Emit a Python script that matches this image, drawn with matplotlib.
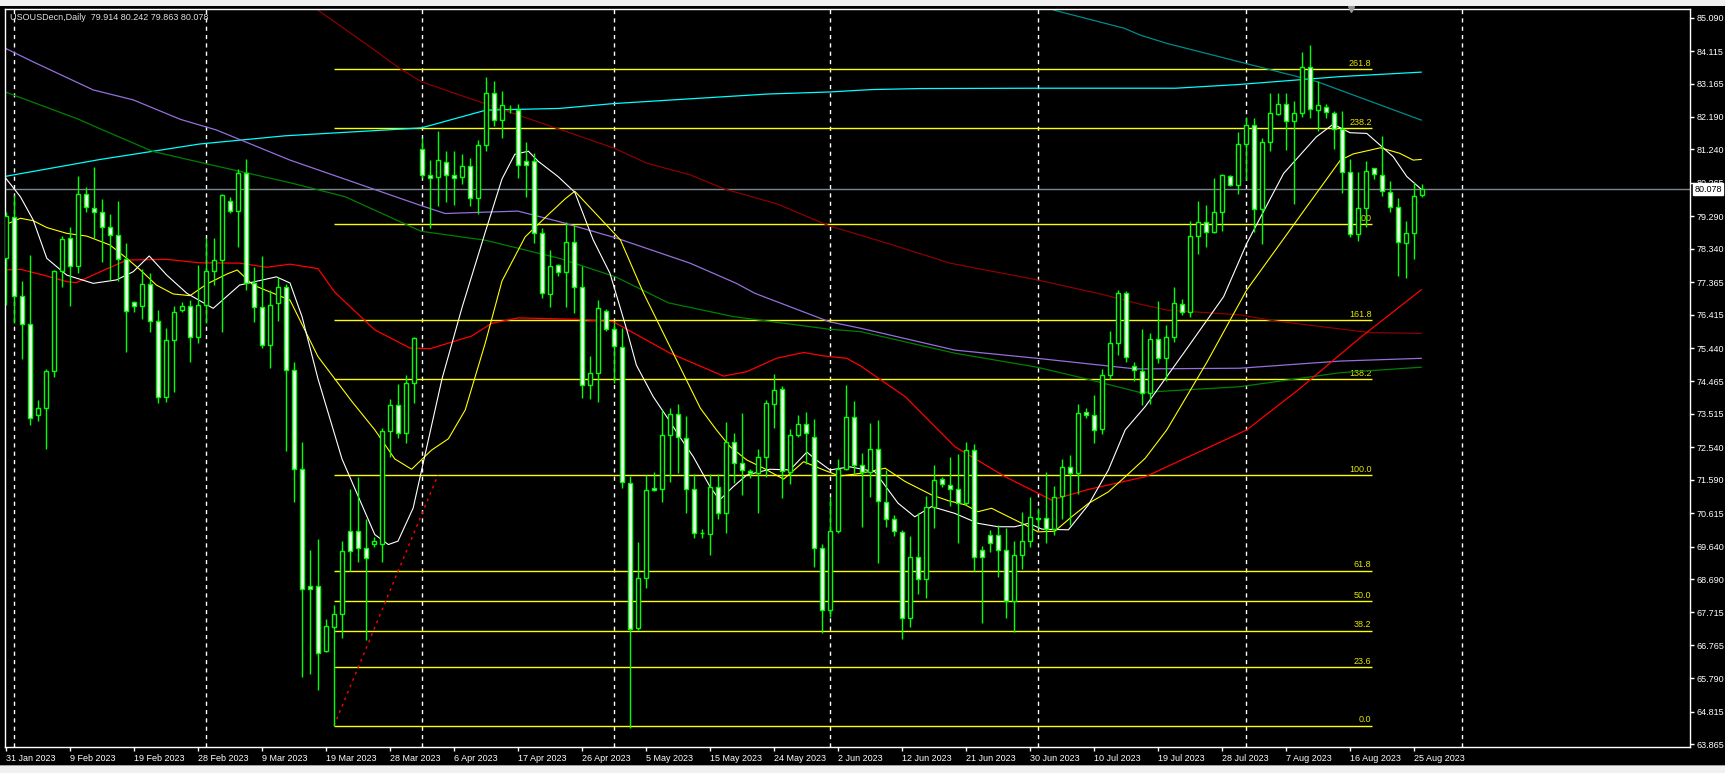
import numpy as np
import matplotlib.pyplot as plt
from matplotlib.patches import Rectangle

plt.rcParams['font.family'] = ['Liberation Sans', 'DejaVu Sans']

# daily bars (Sun-Fri sessions), 31 Jan 2023 .. 27 Aug 2023
opens = [78.06, 79.26, 76.96, 76.13, 73.47, 73.68, 74.76, 77.68, 78.65, 77.83,
         79.93, 79.52, 79.40, 78.99, 78.73, 78.03, 76.78, 76.66, 77.30, 76.22,
         74.00, 75.67, 76.54, 76.66, 75.76, 76.69, 77.68, 78.01, 79.75, 79.43,
         80.54, 77.33, 76.63, 75.53, 76.75, 77.21, 74.80, 71.90, 68.50, 68.50,
         66.58, 67.29, 67.66, 70.11, 70.11, 69.59, 69.72, 69.72, 73.01, 73.77,
         72.97, 74.42, 81.25, 80.50, 80.44, 80.87, 80.49, 80.44, 80.76, 79.83,
         81.36, 82.88, 82.10, 82.41, 82.40, 80.89, 80.89, 78.81, 77.03, 77.88,
         77.66, 78.55, 77.21, 74.35, 74.70, 76.53, 75.99, 75.48, 71.51, 67.25,
         68.71, 71.34, 71.31, 72.89, 73.51, 72.80, 71.31, 70.05, 70.00, 71.37,
         70.61, 72.70, 72.07, 71.86, 71.79, 72.25, 73.80, 74.24, 71.81, 72.89,
         73.21, 72.85, 69.59, 67.79, 70.11, 71.90, 73.42, 72.01, 71.82, 72.48,
         70.95, 70.44, 70.08, 67.54, 69.33, 68.68, 70.79, 71.62, 71.45, 71.33,
         70.90, 72.46, 69.54, 69.98, 69.98, 69.54, 68.05, 69.39, 69.80, 70.45,
         70.47, 70.14, 71.13, 71.97, 71.78, 73.58, 73.47, 73.08, 74.64, 75.60,
         77.04, 74.91, 74.78, 74.12, 75.70, 75.14, 75.75, 76.72, 76.48, 78.72,
         79.13, 78.82, 79.42, 80.48, 80.19, 81.39, 81.97, 79.49, 81.45, 82.27,
         82.56, 82.07, 82.30, 83.64, 82.39, 82.49, 82.32, 81.84, 80.59, 78.77,
         79.54, 80.69, 80.50, 80.01, 79.55, 78.50, 78.79, 79.914]
highs = [79.40, 79.91, 77.40, 78.16, 73.92, 74.83, 77.72, 78.71, 78.97, 80.47,
         80.13, 80.73, 79.79, 79.36, 79.75, 78.50, 76.82, 77.75, 77.62, 76.55,
         76.03, 76.68, 76.78, 76.83, 77.87, 78.65, 78.65, 79.93, 79.86, 80.66,
         80.95, 77.82, 78.13, 77.14, 77.52, 77.31, 75.02, 72.71, 69.54, 69.85,
         67.53, 67.94, 69.80, 71.32, 71.67, 70.44, 69.93, 73.10, 73.96, 74.40,
         74.66, 75.77, 81.58, 80.93, 81.77, 81.19, 81.19, 81.12, 80.99, 81.51,
         83.36, 83.23, 82.94, 82.53, 82.58, 81.45, 81.15, 78.94, 78.31, 77.90,
         79.11, 79.02, 77.84, 75.21, 76.84, 76.57, 76.21, 76.02, 71.70, 69.78,
         71.73, 71.83, 73.63, 73.68, 73.81, 73.45, 71.75, 70.15, 71.75, 71.75,
         73.28, 72.97, 73.53, 71.90, 72.48, 73.92, 74.68, 74.33, 73.07, 73.48,
         73.56, 73.36, 69.72, 71.08, 72.19, 74.36, 73.89, 72.38, 73.24, 73.34,
         71.88, 70.56, 70.12, 69.95, 70.61, 71.13, 72.01, 71.68, 72.25, 72.34,
         72.69, 72.64, 69.66, 70.12, 70.27, 70.17, 69.80, 70.66, 71.08, 70.78,
         71.83, 71.41, 72.20, 72.32, 73.82, 73.70, 74.06, 74.82, 75.94, 77.15,
         77.11, 75.04, 75.99, 75.87, 76.80, 76.10, 77.21, 76.86, 79.16, 79.75,
         79.62, 80.40, 80.52, 80.50, 81.76, 82.18, 82.15, 81.59, 82.88, 82.90,
         82.88, 82.67, 84.09, 84.29, 83.25, 82.57, 82.37, 82.36, 80.95, 80.57,
         80.90, 80.71, 81.64, 80.32, 79.81, 79.16, 80.28, 80.242]
lows = [76.70, 76.16, 75.12, 73.20, 73.30, 72.50, 74.58, 77.23, 76.68, 77.62,
        79.40, 78.65, 77.96, 77.44, 77.41, 75.31, 76.50, 76.29, 75.90, 73.83,
        73.87, 74.15, 76.50, 75.02, 75.58, 76.16, 77.28, 75.90, 79.38, 78.38,
        77.14, 76.19, 75.43, 74.87, 76.24, 72.42, 70.93, 65.83, 65.93, 65.45,
        66.55, 64.41, 66.97, 68.92, 69.20, 66.90, 69.63, 69.18, 72.27, 72.81,
        72.66, 73.83, 80.40, 78.94, 79.59, 79.72, 79.63, 80.22, 79.59, 79.37,
        81.19, 81.93, 81.58, 82.30, 80.41, 79.85, 78.50, 76.90, 76.64, 77.55,
        76.64, 76.45, 73.99, 73.96, 73.85, 75.95, 74.41, 71.34, 64.35, 67.20,
        68.44, 71.26, 70.95, 71.54, 71.78, 70.63, 69.90, 69.90, 69.39, 70.44,
        70.03, 71.51, 71.15, 71.63, 70.63, 71.66, 73.10, 71.07, 71.47, 72.85,
        72.04, 69.05, 67.11, 67.57, 70.05, 71.88, 71.78, 70.22, 71.08, 69.15,
        70.22, 69.95, 66.93, 67.28, 68.25, 68.13, 70.17, 71.37, 70.83, 69.75,
        70.85, 68.94, 67.40, 69.49, 68.74, 67.56, 67.14, 69.00, 69.62, 70.17,
        69.75, 69.98, 70.44, 70.27, 71.18, 73.39, 72.66, 72.93, 74.53, 75.24,
        75.04, 74.49, 73.77, 73.81, 74.99, 74.48, 75.63, 76.41, 76.36, 78.18,
        78.40, 78.79, 78.87, 80.17, 79.93, 80.35, 78.84, 78.47, 81.21, 82.25,
        81.23, 79.65, 82.18, 82.15, 81.79, 82.15, 81.25, 79.98, 78.67, 78.58,
        78.99, 80.37, 79.89, 79.41, 77.53, 77.50, 78.03, 79.863]
closes = [79.30, 76.96, 76.13, 73.39, 73.68, 74.76, 77.68, 78.62, 77.83, 79.93,
          79.55, 79.40, 78.99, 78.73, 78.03, 76.51, 76.66, 77.30, 76.22, 74.00,
          75.67, 76.48, 76.66, 75.76, 76.69, 77.68, 78.01, 79.90, 79.44, 80.54,
          77.33, 76.63, 75.53, 76.70, 77.21, 74.80, 71.90, 68.40, 68.40, 66.54,
          67.32, 67.66, 69.50, 69.50, 69.59, 69.31, 69.80, 73.01, 73.77, 72.97,
          74.42, 75.72, 80.50, 80.40, 80.92, 80.49, 80.41, 80.76, 79.83, 81.36,
          82.88, 82.10, 82.53, 82.43, 80.80, 80.80, 78.81, 77.06, 77.84, 77.66,
          78.55, 77.21, 74.35, 74.70, 76.60, 75.99, 75.50, 71.52, 67.22, 68.71,
          71.29, 71.28, 72.89, 73.51, 72.83, 71.31, 70.03, 70.03, 71.37, 70.61,
          72.70, 72.07, 71.88, 71.79, 72.25, 73.83, 74.20, 71.85, 72.89, 73.21,
          72.95, 69.59, 67.79, 70.11, 71.92, 73.42, 72.01, 71.82, 72.48, 70.97,
          70.45, 70.10, 67.54, 69.33, 68.68, 70.79, 71.60, 71.47, 71.31, 70.90,
          72.46, 69.33, 69.33, 69.75, 69.54, 68.05, 69.39, 69.80, 70.50, 70.47,
          70.14, 71.10, 71.96, 71.78, 73.55, 73.47, 73.06, 74.64, 75.58, 77.04,
          75.17, 74.80, 74.12, 75.70, 75.14, 75.75, 76.75, 76.48, 78.72, 79.13,
          78.84, 79.41, 80.49, 80.19, 81.39, 81.97, 79.49, 81.45, 82.30, 82.56,
          82.07, 82.30, 83.64, 82.41, 82.53, 82.34, 81.84, 80.57, 78.77, 79.54,
          80.62, 80.52, 80.03, 79.55, 78.53, 78.79, 79.88, 80.078]

# date labels every 8 bars
date_labels = ['31 Jan 2023', '9 Feb 2023', '19 Feb 2023', '28 Feb 2023', '9 Mar 2023',
               '19 Mar 2023', '28 Mar 2023', '6 Apr 2023', '17 Apr 2023', '26 Apr 2023',
               '5 May 2023', '15 May 2023', '24 May 2023', '2 Jun 2023', '12 Jun 2023',
               '21 Jun 2023', '30 Jun 2023', '10 Jul 2023', '19 Jul 2023', '28 Jul 2023',
               '7 Aug 2023', '16 Aug 2023', '25 Aug 2023']
month_start_bars = [1, 25, 52, 76, 103, 129, 155, 182]
price_labels = ['85.090', '84.115', '83.165', '82.190', '81.240', '80.265', '79.290',
                '78.340', '77.365', '76.415', '75.440', '74.465', '73.515', '72.540',
                '71.590', '70.615', '69.640', '68.690', '67.715', '66.765', '65.790',
                '64.815', '63.865']

# moving averages (bar position, price)
ma_white_x = [-0.2, 1.8, 3.4, 5.1, 7.6, 10.9, 13.8, 15.9, 17.9, 20.1, 22.6, 25.9, 29.2, 33.8,
              35.5, 37.0, 39.0, 42.0, 46.1, 47.8, 49.0, 50.9, 51.9, 54.5, 57.0, 59.9, 62.0,
              63.6, 65.3, 66.5, 69.0, 71.1, 73.4, 75.5, 77.6, 78.8, 80.9, 83.0, 84.2, 85.9,
              88.0, 89.2, 90.9, 92.6, 95.5, 98.0, 100.1, 101.3, 103.0, 105.5, 108.6, 111.5,
              113.6, 115.7, 118.6, 121.5, 124.0, 126.1, 127.8, 129.5, 132.8, 135.3, 137.8,
              139.9, 142.4, 147.2, 152.2, 155.1, 159.7, 163.8, 165.9, 168.0, 170.1, 173.4,
              175.1, 176.9]
ma_white_y = [80.45, 79.86, 79.18, 78.06, 77.57, 77.33, 77.43, 77.67, 78.13, 77.57, 77.04,
              76.60, 77.28, 77.52, 77.34, 76.36, 74.54, 72.20, 69.99, 69.70, 69.80, 70.77,
              71.82, 74.54, 76.62, 78.82, 80.38, 81.10, 81.19, 80.90, 80.45, 79.99, 78.60,
              77.62, 75.97, 74.94, 74.02, 73.29, 72.85, 72.27, 71.39, 71.00, 71.39, 71.73,
              71.90, 71.88, 72.40, 72.17, 71.88, 71.97, 71.83, 70.91, 70.51, 70.81, 70.61,
              70.32, 70.22, 70.22, 70.32, 70.15, 70.13, 70.86, 71.88, 73.05, 73.73, 75.29,
              76.94, 78.50, 80.54, 81.61, 81.98, 81.73, 81.71, 81.03, 80.45, 80.08]
ma_yellow_x = [-0.2, 1.8, 3.4, 5.1, 7.6, 10.1, 13.0, 15.1, 16.8, 18.8, 20.9, 23.0, 25.1,
               27.6, 28.9, 30.9, 33.4, 35.5, 39.0, 43.2, 46.1, 48.6, 50.7, 53.2, 55.3, 57.4,
               59.9, 62.0, 64.9, 67.8, 69.9, 71.1, 76.8, 79.7, 83.0, 86.8, 88.8, 90.5, 92.6,
               94.7, 97.2, 99.7, 102.2, 104.2, 106.8, 109.9, 112.4, 115.7, 117.8, 119.9,
               121.5, 123.2, 124.9, 127.0, 129.0, 131.1, 133.2, 135.3, 137.8, 139.9, 142.4,
               145.1, 150.1, 155.1, 160.5, 163.8, 166.8, 168.4, 171.8, 174.2, 175.9, 176.9]
ma_yellow_y = [79.03, 79.23, 79.16, 78.96, 78.79, 78.71, 78.45, 78.06, 77.72, 77.28, 77.02,
               76.97, 77.31, 77.60, 77.72, 77.28, 77.04, 76.84, 75.19, 73.89, 73.05, 72.20,
               71.90, 72.46, 72.79, 73.63, 75.58, 77.40, 78.69, 79.34, 79.80, 80.02, 78.60,
               77.04, 75.48, 73.68, 73.05, 72.56, 72.17, 71.93, 71.61, 72.12, 71.88, 71.70,
               71.78, 71.93, 71.54, 71.15, 70.98, 70.86, 70.66, 70.76, 70.56, 70.32, 70.07,
               70.09, 70.51, 70.90, 71.24, 71.68, 72.22, 73.05, 75.02, 77.14, 78.89, 79.96,
               80.93, 81.11, 81.29, 81.13, 80.93, 80.95]
ma_red_x = [-0.2, 1.8, 4.7, 7.6, 8.8, 11.8, 15.1, 20.1, 24.2, 29.2, 32.6, 35.5, 39.0, 41.1,
            46.1, 50.5, 53.0, 58.2, 60.7, 64.0, 71.1, 75.9, 83.0, 89.7, 92.6, 96.3, 99.7,
            102.2, 105.1, 106.8, 112.4, 118.6, 124.9, 130.7, 135.3, 142.4, 155.1, 161.8,
            169.2, 176.9]
ma_red_y = [77.72, 77.74, 77.57, 77.38, 77.35, 77.67, 78.01, 78.03, 77.93, 77.92, 77.80,
            77.89, 77.76, 77.07, 75.97, 75.44, 75.42, 75.79, 76.16, 76.32, 76.28, 76.21,
            75.29, 74.62, 74.75, 75.14, 75.31, 75.21, 75.14, 74.92, 74.02, 72.56, 71.68,
            71.00, 71.31, 71.68, 73.05, 74.27, 75.73, 77.14]
ma_green_x = [-0.2, 9.0, 12.1, 18.4, 25.1, 35.5, 42.4, 51.9, 59.9, 69.2, 76.2, 82.8, 90.9,
              102.9, 106.8, 118.6, 128.9, 135.2, 141.8, 154.2, 166.8, 176.9]
ma_green_y = [82.93, 82.13, 81.81, 81.18, 80.82, 80.27, 79.86, 78.85, 78.59, 78.06, 77.52,
              76.76, 76.36, 75.99, 75.92, 75.29, 74.88, 74.53, 74.14, 74.31, 74.72, 74.88]
ma_purple_x = [-0.2, 3.4, 10.9, 15.9, 21.8, 26.3, 35.5, 51.9, 54.9, 59.9, 64.0, 69.2, 76.2,
               85.5, 91.3, 93.6, 102.9, 106.8, 118.6, 128.9, 141.2, 154.2, 166.8, 176.9]
ma_purple_y = [84.21, 83.80, 82.98, 82.69, 82.12, 81.81, 80.93, 79.60, 79.37, 79.41, 79.44,
               79.13, 78.66, 77.92, 77.33, 77.04, 76.21, 76.02, 75.38, 75.14, 74.83, 74.85,
               75.06, 75.14]
ma_maroon_x = [38.0, 39.0, 45.2, 49.2, 52.0, 69.2, 75.9, 80.1, 85.5, 89.9, 96.4, 102.9,
               109.9, 118.0, 128.9, 137.0, 141.8, 145.1, 154.2, 158.4, 170.5, 176.9]
ma_maroon_y = [85.60, 85.31, 84.29, 83.61, 83.21, 81.83, 81.29, 80.84, 80.50, 80.08, 79.65,
               79.01, 78.52, 77.92, 77.43, 77.01, 76.72, 76.55, 76.41, 76.24, 75.89, 75.87]
ma_cyan_x = [-0.2, 11.8, 24.2, 34.9, 51.9, 60.0, 69.2, 75.9, 85.5, 95.2, 102.9, 108.2, 114.2,
             128.9, 141.8, 146.2, 154.2, 166.8, 176.9]
ma_cyan_y = [80.45, 80.95, 81.40, 81.64, 81.87, 82.39, 82.44, 82.58, 82.72, 82.86, 82.92,
             82.99, 83.02, 83.03, 83.03, 83.03, 83.14, 83.37, 83.50]
ma_teal_x = [129.0, 131.0, 139.8, 141.8, 145.1, 154.2, 163.9, 176.9]
ma_teal_y = [85.60, 85.31, 84.78, 84.58, 84.34, 83.80, 83.22, 82.10]

# fibonacci expansion drawn on the chart
fib_names = ['0.0', '23.6', '38.2', '50.0', '61.8', '100.0', '138.2', '161.8', '200',
             '238.2', '261.8']
fib_prices = [64.41, 66.12, 67.18, 68.05, 68.94, 71.73, 74.53, 76.26, 79.06, 81.86, 83.58]
fib_start, fib_end = 41, 170.7
fib_trend_x = [41, 54]
fib_trend_y = [64.41, 71.73]

last_price = 80.078
title = 'USOUSDecn,Daily  79.914 80.242 79.863 80.078'

W, H = 1725, 773
fig = plt.figure(figsize=(W / 100, H / 100), dpi=100, facecolor='black')
ax = fig.add_axes([5 / W, 1 - 747 / H, 1685 / W, 738 / H], facecolor='black')

bars = np.arange(len(closes))
o = np.array(opens)
c = np.array(closes)
green = '#00ff00'

# grid / drawings
for b in month_start_bars:
    ax.axvline(b, color='white', lw=1, ls=(0, (3, 3)), zorder=1)
ax.hlines(fib_prices, fib_start, fib_end, color='#ffff00', lw=1, zorder=1.5)
for name, p in zip(fib_names, fib_prices):
    ax.annotate(name, (fib_end, p), xytext=(0, 1), textcoords='offset points',
                ha='right', va='bottom', color='#e6e600', fontsize=6.5, zorder=1.6)
ax.plot(fib_trend_x, fib_trend_y, color='red', lw=1, ls=(0, (2, 3)), zorder=1.6)
ax.axhline(last_price, color='#7d8790', lw=1, zorder=1.7)

# moving averages
ax.plot(ma_cyan_x, ma_cyan_y, color='#00ffff', lw=0.9, zorder=2)
ax.plot(ma_teal_x, ma_teal_y, color='#008b8b', lw=0.9, zorder=2)
ax.plot(ma_maroon_x, ma_maroon_y, color='#8b0000', lw=0.9, zorder=2)
ax.plot(ma_purple_x, ma_purple_y, color='#9370db', lw=0.9, zorder=2)
ax.plot(ma_green_x, ma_green_y, color='#008000', lw=0.9, zorder=2)
ax.plot(ma_red_x, ma_red_y, color='#ff0000', lw=0.9, zorder=2)
ax.plot(ma_yellow_x, ma_yellow_y, color='#ffff00', lw=0.8, zorder=2)
ax.plot(ma_white_x, ma_white_y, color='#ffffff', lw=0.8, zorder=2)

# candles: white body = down, black body = up
ax.vlines(bars, lows, highs, color=green, lw=1, zorder=3)
fills = np.where(c < o, 'white', 'black')
bottoms = np.minimum(o, c)
heights = np.maximum(np.abs(c - o), 0.02)
ax.bar(bars, heights, bottom=bottoms, width=0.5, color=fills, edgecolor=green,
       linewidth=1, zorder=4)

ax.set_xlim(-0.125, 210.5)
ax.set_ylim(63.786, 85.344)

ax.set_xticks(np.arange(len(date_labels)) * 8)
ax.set_xticklabels(date_labels, ha='left')
ax.yaxis.tick_right()
ax.set_yticks([float(s) for s in price_labels])
ax.set_yticklabels(price_labels)
ax.tick_params(axis='both', colors='white', labelcolor='white', labelsize=6.5,
               length=3, width=1, direction='out', pad=2)
for s in ax.spines.values():
    s.set_color('white')
    s.set_linewidth(1)

# last price tag on the price scale
ax.annotate(f'{last_price:.3f}', (1, last_price), xycoords=('axes fraction', 'data'),
            xytext=(3, 0), textcoords='offset points', ha='left', va='center',
            fontsize=6.5, color='black', zorder=10, annotation_clip=False,
            bbox=dict(boxstyle='square,pad=0.15', fc='white', ec='white'))

# chart shift marker
ax.plot([0.799], [1.0], marker='v', color='#9a9a9a', ms=5,
        transform=ax.transAxes, clip_on=False, zorder=5)

fig.text(10 / W, 1 - 17 / H, title, color='#e0e0e0', fontsize=6.5, va='center', ha='left')

# terminal window frame strips
fig.patches.append(Rectangle((0, 1 - 6 / H), 1, 6 / H, transform=fig.transFigure,
                             fc='#f0f0f0', ec='none'))
fig.patches.append(Rectangle((0, 0), 1, 7 / H, transform=fig.transFigure,
                             fc='#f0f0f0', ec='none'))
fig.patches.append(Rectangle((0, 7 / H), 1, 1 / H, transform=fig.transFigure,
                             fc='#a0a0a0', ec='none'))

fig.savefig('out.png', dpi=100, facecolor='black')
